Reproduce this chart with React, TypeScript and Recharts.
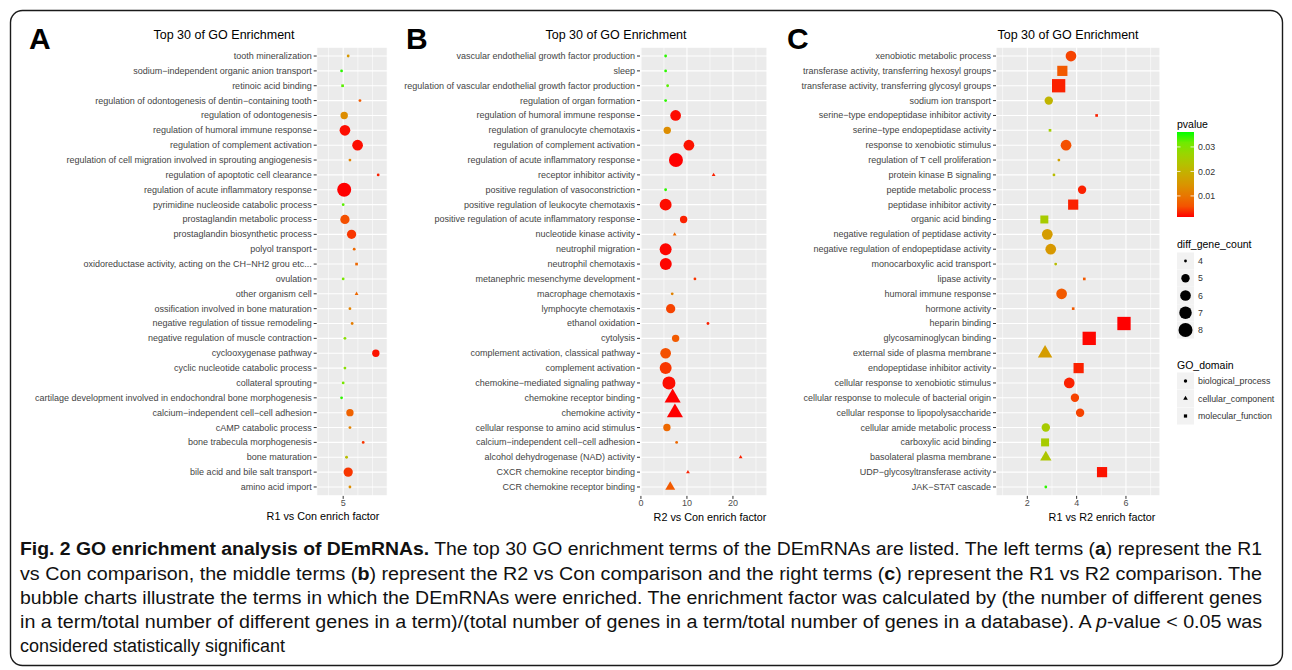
import { CartesianGrid, ReferenceLine, Scatter, ScatterChart, XAxis, YAxis } from 'recharts';

const FONT = '"Liberation Sans", Arial, Helvetica, sans-serif';

const BP = 'biological_process';
const CC = 'cellular_component';
const MF = 'molecular_function';
const DOMAINS = [BP, CC, MF];

// pvalue colour bar (red = low, green = high), ggplot-style Lab blend sampled at 9 stops
const P_LOW = 0.0014;
const P_HIGH = 0.0361;
const GRADIENT = ['#FF0000', '#F45300', '#E87600', '#DA9300', '#C9AB00', '#B3C200', '#98D600', '#70EB00', '#00FF00'];

// ---- panel A: R1 vs Con ----
const termsA = [
  'tooth mineralization',
  'sodium-independent organic anion transport',
  'retinoic acid binding',
  'regulation of odontogenesis of dentin-containing tooth',
  'regulation of odontogenesis',
  'regulation of humoral immune response',
  'regulation of complement activation',
  'regulation of cell migration involved in sprouting angiogenesis',
  'regulation of apoptotic cell clearance',
  'regulation of acute inflammatory response',
  'pyrimidine nucleoside catabolic process',
  'prostaglandin metabolic process',
  'prostaglandin biosynthetic process',
  'polyol transport',
  'oxidoreductase activity, acting on the CH-NH2 grou etc...',
  'ovulation',
  'other organism cell',
  'ossification involved in bone maturation',
  'negative regulation of tissue remodeling',
  'negative regulation of muscle contraction',
  'cyclooxygenase pathway',
  'cyclic nucleotide catabolic process',
  'collateral sprouting',
  'cartilage development involved in endochondral bone morphogenesis',
  'calcium-independent cell-cell adhesion',
  'cAMP catabolic process',
  'bone trabecula morphogenesis',
  'bone maturation',
  'bile acid and bile salt transport',
  'amino acid import',
];
const enrichA = [5.34, 4.89, 4.96, 6.14, 5.07, 5.12, 5.98, 5.46, 7.38, 5.07, 5.0, 5.12, 5.57, 5.75, 5.91, 5.0, 5.91, 5.46, 5.61, 5.12, 7.22, 5.12, 5.0, 4.89, 5.46, 5.46, 6.36, 5.23, 5.34, 5.46];
const countA = [2, 2, 2, 2, 3, 5, 5, 2, 2, 8, 2, 4, 4, 2, 2, 2, 2, 2, 2, 2, 3, 2, 2, 2, 3, 2, 2, 2, 4, 2];
const pvalueA = [0.0153, 0.0344, 0.0326, 0.0066, 0.0135, 0.0021, 0.0021, 0.0118, 0.0031, 0.0014, 0.0326, 0.0056, 0.0042, 0.0083, 0.0083, 0.0309, 0.0083, 0.0118, 0.0111, 0.0292, 0.0024, 0.0292, 0.0309, 0.0344, 0.0076, 0.0118, 0.0042, 0.0222, 0.0042, 0.0135];
const domainA = [BP, BP, MF, BP, BP, BP, BP, BP, BP, BP, BP, BP, BP, BP, MF, BP, CC, BP, BP, BP, BP, BP, BP, BP, BP, BP, BP, BP, BP, BP];

// ---- panel B: R2 vs Con ----
const termsB = [
  'vascular endothelial growth factor production',
  'sleep',
  'regulation of vascular endothelial growth factor production',
  'regulation of organ formation',
  'regulation of humoral immune response',
  'regulation of granulocyte chemotaxis',
  'regulation of complement activation',
  'regulation of acute inflammatory response',
  'receptor inhibitor activity',
  'positive regulation of vasoconstriction',
  'positive regulation of leukocyte chemotaxis',
  'positive regulation of acute inflammatory response',
  'nucleotide kinase activity',
  'neutrophil migration',
  'neutrophil chemotaxis',
  'metanephric mesenchyme development',
  'macrophage chemotaxis',
  'lymphocyte chemotaxis',
  'ethanol oxidation',
  'cytolysis',
  'complement activation, classical pathway',
  'complement activation',
  'chemokine-mediated signaling pathway',
  'chemokine receptor binding',
  'chemokine activity',
  'cellular response to amino acid stimulus',
  'calcium-independent cell-cell adhesion',
  'alcohol dehydrogenase (NAD) activity',
  'CXCR chemokine receptor binding',
  'CCR chemokine receptor binding',
];
const enrichB = [5.37, 5.37, 5.8, 5.37, 7.54, 5.72, 10.43, 7.61, 15.8, 5.37, 5.37, 9.28, 7.33, 5.37, 5.4, 11.74, 6.8, 6.46, 14.57, 7.54, 5.37, 5.37, 6.09, 6.89, 7.39, 5.65, 7.76, 21.67, 10.22, 6.37];
const countB = [2, 2, 2, 2, 5, 3, 5, 8, 2, 2, 6, 3, 2, 6, 6, 2, 2, 4, 2, 3, 5, 6, 7, 6, 6, 3, 2, 2, 2, 3];
const pvalueB = [0.0344, 0.0344, 0.0326, 0.0344, 0.0021, 0.0135, 0.0024, 0.0014, 0.0031, 0.0344, 0.0021, 0.0031, 0.0083, 0.0017, 0.0017, 0.0042, 0.0118, 0.0049, 0.0031, 0.0066, 0.0056, 0.0042, 0.0021, 0.0014, 0.0014, 0.0083, 0.0083, 0.0031, 0.0031, 0.0066];
const domainB = [BP, BP, BP, BP, BP, BP, BP, BP, MF, BP, BP, BP, MF, BP, BP, BP, BP, BP, BP, BP, BP, BP, BP, MF, MF, BP, BP, MF, MF, MF];

// ---- panel C: R1 vs R2 ----
const termsC = [
  'xenobiotic metabolic process',
  'transferase activity, transferring hexosyl groups',
  'transferase activity, transferring glycosyl groups',
  'sodium ion transport',
  'serine-type endopeptidase inhibitor activity',
  'serine-type endopeptidase activity',
  'response to xenobiotic stimulus',
  'regulation of T cell proliferation',
  'protein kinase B signaling',
  'peptide metabolic process',
  'peptidase inhibitor activity',
  'organic acid binding',
  'negative regulation of peptidase activity',
  'negative regulation of endopeptidase activity',
  'monocarboxylic acid transport',
  'lipase activity',
  'humoral immune response',
  'hormone activity',
  'heparin binding',
  'glycosaminoglycan binding',
  'external side of plasma membrane',
  'endopeptidase inhibitor activity',
  'cellular response to xenobiotic stimulus',
  'cellular response to molecule of bacterial origin',
  'cellular response to lipopolysaccharide',
  'cellular amide metabolic process',
  'carboxylic acid binding',
  'basolateral plasma membrane',
  'UDP-glycosyltransferase activity',
  'JAK-STAT cascade',
];
const enrichC = [3.77, 3.42, 3.27, 2.87, 4.81, 2.92, 3.57, 3.28, 3.08, 4.22, 3.86, 2.69, 2.81, 2.95, 3.15, 4.31, 3.39, 3.86, 5.92, 4.51, 2.72, 4.08, 3.7, 3.93, 4.14, 2.75, 2.72, 2.75, 5.03, 2.75];
const countC = [6, 6, 8, 5, 4, 4, 6, 4, 4, 5, 6, 5, 6, 6, 4, 4, 6, 4, 8, 8, 6, 6, 6, 5, 5, 5, 5, 5, 6, 4];
const pvalueC = [0.0049, 0.0066, 0.0031, 0.0205, 0.0031, 0.0257, 0.0056, 0.017, 0.0222, 0.0031, 0.0031, 0.025, 0.016, 0.0153, 0.0222, 0.0066, 0.0066, 0.0066, 0.0014, 0.0017, 0.016, 0.0031, 0.0031, 0.0049, 0.0049, 0.025, 0.025, 0.024, 0.0024, 0.0344];
const domainC = [BP, MF, MF, BP, MF, MF, BP, BP, BP, BP, MF, MF, BP, BP, BP, MF, BP, MF, MF, MF, CC, MF, BP, BP, BP, BP, MF, CC, MF, BP];

const pTicks = [0.01, 0.02, 0.03];
const countTicks = [4, 5, 6, 7, 8];

function hexRgb(h: string) {
  return [1, 3, 5].map((i) => parseInt(h.slice(i, i + 2), 16));
}

function pColor(p: number) {
  const t = Math.min(1, Math.max(0, (p - P_LOW) / (P_HIGH - P_LOW)));
  const s = t * (GRADIENT.length - 1);
  const i = Math.min(GRADIENT.length - 2, Math.floor(s));
  const f = s - i;
  const a = hexRgb(GRADIENT[i]);
  const b = hexRgb(GRADIENT[i + 1]);
  const c = a.map((v, k) => Math.round(v + (b[k] - v) * f));
  return `rgb(${c[0]},${c[1]},${c[2]})`;
}

// ggplot area scale: diameter grows with sqrt of rescaled count
function markerSize(count: number, lo: number, hi: number) {
  const n = hi > lo ? (count - lo) / (hi - lo) : 0;
  return 2.8 + 11.2 * Math.sqrt(Math.max(0, n));
}

function drawMarker(kind: number, cx: number, cy: number, d: number, fill: string, key?: string) {
  const r = d / 2;
  if (kind === 1) {
    const pts = [
      [cx, cy - 1.555 * r],
      [cx + 1.347 * r, cy + 0.778 * r],
      [cx - 1.347 * r, cy + 0.778 * r],
    ];
    return <polygon key={key} points={pts.map((q) => q.join(',')).join(' ')} fill={fill} />;
  }
  if (kind === 2) {
    const s = d * 0.95;
    return <rect key={key} x={cx - s / 2} y={cy - s / 2} width={s} height={s} fill={fill} />;
  }
  return <circle key={key} cx={cx} cy={cy} r={r} fill={fill} />;
}

interface PanelProps {
  left: number;
  width: number;
  plotLeft: number;
  plotRight: number;
  terms: string[];
  enrich: number[];
  count: number[];
  pvalue: number[];
  domain: string[];
  xDomain: [number, number];
  xTicks: number[];
  xMinor: number[];
}

function Panel(p: PanelProps) {
  const data = p.terms.map((term, i) => ({
    term,
    row: i + 1,
    x: p.enrich[i],
    count: p.count[i],
    p: p.pvalue[i],
    domain: p.domain[i],
  }));
  const rows = data.map((d) => d.row);
  const levels = DOMAINS.filter((d) => p.domain.includes(d));
  const cMin = Math.min(...p.count);
  const cMax = Math.max(...p.count);

  const shape = (props: any) => {
    const { cx, cy, payload } = props;
    if (cx == null || cy == null || !payload) return <g />;
    return drawMarker(
      levels.indexOf(payload.domain),
      cx,
      cy,
      markerSize(payload.count, cMin, cMax),
      pColor(payload.p)
    );
  };

  const termTick = (props: any) => {
    const { x, y, payload } = props;
    const label = (p.terms[payload.value - 1] || '').replace(/-/g, '\u2212');
    return (
      <text x={x} y={y} dy="0.33em" textAnchor="end" fontSize={9} fill="#444" fontFamily={FONT}>
        {label}
      </text>
    );
  };

  return (
    <div style={{ position: 'absolute', left: p.left, top: 0 }}>
      <ScatterChart
        width={p.width}
        height={530}
        margin={{ top: 47.1, right: p.left + p.width - p.plotRight, bottom: 14.1, left: 0 }}
      >
        <CartesianGrid fill="#EBEBEB" stroke="#FFFFFF" strokeWidth={1.1} />
        {p.xMinor.map((v) => (
          <ReferenceLine key={v} x={v} stroke="#FFFFFF" strokeWidth={0.6} />
        ))}
        <XAxis
          type="number"
          dataKey="x"
          domain={p.xDomain}
          ticks={p.xTicks}
          interval={0}
          allowDataOverflow
          height={20}
          tickSize={3}
          tickMargin={1}
          axisLine={false}
          tickLine={{ stroke: '#333' }}
          tick={{ fontSize: 9, fill: '#4D4D4D', fontFamily: FONT }}
        />
        <YAxis
          type="number"
          dataKey="row"
          domain={[0.4, rows.length + 0.6]}
          reversed
          ticks={rows}
          interval={0}
          allowDataOverflow
          width={p.plotLeft - p.left}
          tickSize={3}
          axisLine={false}
          tickLine={{ stroke: '#333' }}
          tick={termTick}
        />
        <Scatter data={data} isAnimationActive={false} shape={shape} />
      </ScatterChart>
    </div>
  );
}

function Legend() {
  const barTop = 132;
  const barH = 85;
  const pToY = (v: number) => barTop + barH * (1 - (v - P_LOW) / (P_HIGH - P_LOW));
  const countRows = countTicks.map((c, i) => ({ c, y: 261 + i * 17.25 }));
  const domainRows = DOMAINS.map((d, i) => ({ d, y: 381 + i * 17.5 }));
  return (
    <g fontFamily={FONT}>
      <defs>
        <linearGradient id="pgrad" x1="0" y1="1" x2="0" y2="0">
          {GRADIENT.map((c, i) => (
            <stop key={c} offset={i / (GRADIENT.length - 1)} stopColor={c} />
          ))}
        </linearGradient>
      </defs>
      <text x={1177} y={128} fontSize={10.5} fill="#000">pvalue</text>
      <rect x={1177} y={barTop} width={17} height={barH} fill="url(#pgrad)" />
      {pTicks.map((v) => (
        <g key={v}>
          <line x1={1177} x2={1180.5} y1={pToY(v)} y2={pToY(v)} stroke="#fff" strokeWidth={0.8} />
          <line x1={1190.5} x2={1194} y1={pToY(v)} y2={pToY(v)} stroke="#fff" strokeWidth={0.8} />
          <text x={1198} y={pToY(v)} dy="0.35em" fontSize={8.8} fill="#333">{v.toFixed(2)}</text>
        </g>
      ))}

      <text x={1177} y={248} fontSize={10.5} fill="#000">diff_gene_count</text>
      {countRows.map(({ c, y }) => (
        <g key={c}>
          <rect x={1177} y={y - 8.5} width={17} height={17} fill="#F2F2F2" />
          {drawMarker(0, 1185.5, y, markerSize(c, 4, 8), '#000')}
          <text x={1198} y={y} dy="0.35em" fontSize={8.8} fill="#333">{c}</text>
        </g>
      ))}

      <text x={1177} y={369} fontSize={10.5} fill="#000">GO_domain</text>
      {domainRows.map(({ d, y }, i) => (
        <g key={d}>
          <rect x={1177} y={y - 8.5} width={17} height={17} fill="#F2F2F2" />
          {drawMarker(i, 1185.5, y, 3.4, '#000')}
          <text x={1198} y={y} dy="0.35em" fontSize={8.8} fill="#333">{d}</text>
        </g>
      ))}
    </g>
  );
}

function Overlay() {
  const titleStyle = { fontSize: 12.5, fill: '#000', fontFamily: FONT };
  const axisTitle = { fontSize: 10.8, fill: '#000', fontFamily: FONT };
  const letter = { fontSize: 30, fontWeight: 700, fill: '#000', fontFamily: FONT };
  const cap = { fontSize: 18, fill: '#111', fontFamily: '"Liberation Sans Narrow", "Liberation Sans", Arial, sans-serif' };
  return (
    <svg
      width={1292}
      height={670}
      style={{ position: 'absolute', left: 0, top: 0, pointerEvents: 'none' }}
    >
      <rect x={10.5} y={10.5} width={1272} height={655} rx={12} fill="none" stroke="#1a1a1a" strokeWidth={1.4} />

      <text x={29} y={49} style={letter}>A</text>
      <text x={406} y={49} style={letter}>B</text>
      <text x={787} y={49} style={letter}>C</text>

      <text x={224} y={38.5} textAnchor="middle" style={titleStyle}>Top 30 of GO Enrichment</text>
      <text x={616} y={38.5} textAnchor="middle" style={titleStyle}>Top 30 of GO Enrichment</text>
      <text x={1068} y={38.5} textAnchor="middle" style={titleStyle}>Top 30 of GO Enrichment</text>

      <text x={323} y={519.5} textAnchor="middle" style={axisTitle}>R1 vs Con enrich factor</text>
      <text x={710} y={520.5} textAnchor="middle" style={axisTitle}>R2 vs Con enrich factor</text>
      <text x={1102} y={520.5} textAnchor="middle" style={axisTitle}>R1 vs R2 enrich factor</text>

      <Legend />

      <text x={20} y={555} style={cap} textLength={1242} lengthAdjust="spacingAndGlyphs">
        <tspan fontWeight={700}>Fig. 2 GO enrichment analysis of DEmRNAs.</tspan>
        {' The top 30 GO enrichment terms of the DEmRNAs are listed. The left terms ('}
        <tspan fontWeight={700}>a</tspan>
        {') represent the R1'}
      </text>
      <text x={20} y={579.5} style={cap} textLength={1242} lengthAdjust="spacingAndGlyphs">
        {'vs Con comparison, the middle terms ('}
        <tspan fontWeight={700}>b</tspan>
        {') represent the R2 vs Con comparison and the right terms ('}
        <tspan fontWeight={700}>c</tspan>
        {') represent the R1 vs R2 comparison. The'}
      </text>
      <text x={20} y={604} style={cap} textLength={1242} lengthAdjust="spacingAndGlyphs">
        bubble charts illustrate the terms in which the DEmRNAs were enriched. The enrichment factor was calculated by (the number of different genes
      </text>
      <text x={20} y={628} style={cap} textLength={1242} lengthAdjust="spacingAndGlyphs">
        {'in a term/total number of different genes in a term)/(total number of genes in a term/total number of genes in a database). A '}
        <tspan fontStyle="italic">p</tspan>
        {'-value < 0.05 was'}
      </text>
      <text x={20} y={652} style={cap}>considered statistically significant</text>
    </svg>
  );
}

export default function App() {
  return (
    <div style={{ position: 'absolute', left: 0, top: 0, width: 1292, height: 670, background: '#fff', overflow: 'hidden' }}>
      <Panel
        left={0}
        width={400}
        plotLeft={316.7}
        plotRight={387.3}
        terms={termsA}
        enrich={enrichA}
        count={countA}
        pvalue={pvalueA}
        domain={domainA}
        xDomain={[3.2, 8.0]}
        xTicks={[5]}
        xMinor={[4, 6, 7]}
      />
      <Panel
        left={395}
        width={385}
        plotLeft={640}
        plotRight={767}
        terms={termsB}
        enrich={enrichB}
        count={countB}
        pvalue={pvalueB}
        domain={domainB}
        xDomain={[-0.2, 27.4]}
        xTicks={[0, 10, 20]}
        xMinor={[5, 15, 25]}
      />
      <Panel
        left={780}
        width={395}
        plotLeft={996}
        plotRight={1160}
        terms={termsC}
        enrich={enrichC}
        count={countC}
        pvalue={pvalueC}
        domain={domainC}
        xDomain={[0.73, 7.38]}
        xTicks={[2, 4, 6]}
        xMinor={[1, 3, 5, 7]}
      />
      <Overlay />
    </div>
  );
}
